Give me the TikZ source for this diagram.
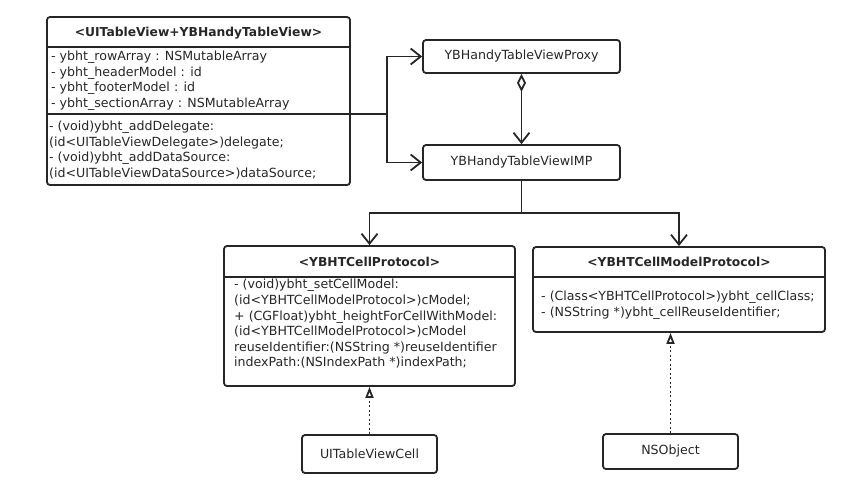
\documentclass[tikz,border=0pt]{standalone}
\usepackage{fontspec}
\setmainfont{DejaVu Sans}
\usetikzlibrary{arrows.meta}
\definecolor{umlgray}{HTML}{262626}

\begin{document}
\begin{tikzpicture}[x=1pt,y=-1pt,
  box/.style={draw=umlgray,line width=1.8pt,rounded corners=3pt,inner sep=0pt},
  sepline/.style={draw=umlgray,line width=1.8pt},
  title/.style={font=\bfseries\fontsize{12.3}{14}\selectfont,text=umlgray},
  txt/.style={font=\fontsize{12.6}{15.6}\selectfont,text=umlgray,align=left,anchor=west,inner sep=0pt},
  classname/.style={font=\fontsize{12.6}{15}\selectfont,text=umlgray},
  link/.style={draw=umlgray,line width=1.8pt},
  assoc/.style={link,-{Straight Barb[length=10pt,width=16pt]}},
  realize/.style={link,dash pattern=on 2pt off 2.5pt,-{Triangle[open,length=11pt,width=8pt]}}]
  \useasboundingbox (0,0) rectangle (858,485);

  % category box
  \node[box,minimum width=303pt,minimum height=168pt] (ext) at (198.5,101) {};
  \draw[sepline] (47,47) -- (350,47);
  \draw[sepline] (47,114) -- (350,114);
  \node[title] (exttitle) at (198.5,33) {<UITableView+YBHandyTableView>};
  \node[txt] (extattr) at (51,80.5) {- ybht\_rowArray : NSMutableArray\\
    - ybht\_headerModel : id\\
    - ybht\_footerModel : id\\
    - ybht\_sectionArray : NSMutableArray};
  \node[txt] (extmeth) at (49,150) {- (void)ybht\_addDelegate:\\
    (id<UITableViewDelegate>)delegate;\\
    - (void)ybht\_addDataSource:\\
    (id<UITableViewDataSource>)dataSource;};

  % proxy and imp
  \node[box,classname,minimum width=197pt,minimum height=33pt] (proxy) at (521.5,56.5) {YBHandyTableViewProxy};
  \node[box,classname,minimum width=197pt,minimum height=35pt] (imp) at (521.5,162.5) {YBHandyTableViewIMP};

  % protocols
  \node[box,minimum width=291pt,minimum height=140pt] (cellp) at (369.5,316) {};
  \draw[sepline] (224,277) -- (515,277);
  \node[title] (cellptitle) at (369.5,262) {<YBHTCellProtocol>};
  \node[txt] (cellpmeth) at (234,324) {- (void)ybht\_setCellModel:\\
    (id<YBHTCellModelProtocol>)cModel;\\
    + (CGFloat)ybht\_heightForCellWithModel:\\
    (id<YBHTCellModelProtocol>)cModel\\
    reuseIdentifier:(NSString *)reuseIdentifier\\
    indexPath:(NSIndexPath *)indexPath;};

  \node[box,minimum width=292pt,minimum height=85pt] (modelp) at (679,289.5) {};
  \draw[sepline] (533,277) -- (825,277);
  \node[title] (modelptitle) at (679,262) {<YBHTCellModelProtocol>};
  \node[txt] (modelpmeth) at (541,305) {- (Class<YBHTCellProtocol>)ybht\_cellClass;\\
    - (NSString *)ybht\_cellReuseIdentifier;};

  % classes
  \node[box,classname,minimum width=135pt,minimum height=38pt] (cell) at (369.5,454) {UITableViewCell};
  \node[box,classname,minimum width=135pt,minimum height=35pt] (nsobj) at (670.5,451.5) {NSObject};

  % connectors
  \coordinate (fork) at (387,114);
  \draw[link] (ext.east |- fork) -- (fork);
  \draw[assoc] (fork) |- (proxy.west);
  \draw[assoc] (fork) |- (imp.west);
  \draw[link,{Diamond[open,length=18pt,width=9pt]}-{Straight Barb[length=10pt,width=16pt]}] (proxy) -- (imp);
  \path (imp.south) ++(0,32) coordinate (split);
  \draw[link] (imp) -- (split);
  \draw[assoc] (split) -| (cellp.north);
  \draw[assoc] (split) -| (modelp.north);
  \draw[realize] (cell) -- (cellp);
  \draw[realize] (nsobj) -- (nsobj |- modelp.south);
\end{tikzpicture}
\end{document}
